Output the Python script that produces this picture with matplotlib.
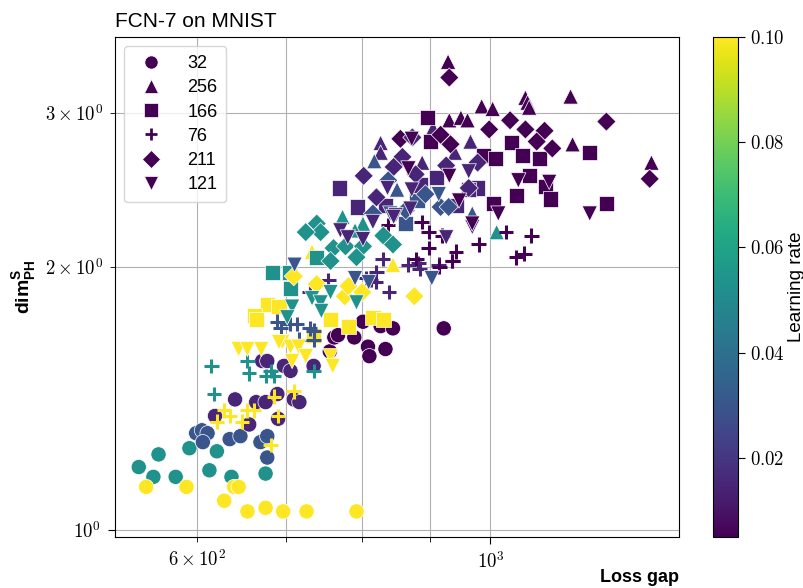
"""FCN-7 on MNIST: PH dimension vs loss gap, coloured by learning rate, marker by batch size."""
import numpy as np
import matplotlib
matplotlib.use('Agg')
import matplotlib.pyplot as plt
from matplotlib.lines import Line2D
from matplotlib.ticker import FuncFormatter, FixedLocator

plt.rcParams['font.family'] = ['Liberation Sans', 'DejaVu Sans']
plt.rcParams['mathtext.fontset'] = 'cm'
plt.rcParams['mathtext.bf'] = 'Liberation Sans:bold'
plt.rcParams['mathtext.rm'] = 'Liberation Sans'

# batch size 32 (circles)
gap_32 = [542, 561, 556, 578, 592, 613, 621, 637, 676,
          549, 589, 629, 640, 645, 655, 676, 697, 726, 792,
          599, 605, 611, 606, 635, 647, 670, 678, 678,
          619, 641, 665, 676, 657, 690, 691, 710, 717, 672, 678, 698, 706, 735,
          756, 762, 767, 789, 801, 808, 810, 826, 833, 844, 922]
dim_32 = [1.18, 1.22, 1.15, 1.15, 1.24, 1.17, 1.23, 1.15, 1.16,
          1.12, 1.12, 1.08, 1.12, 1.12, 1.05, 1.06, 1.05, 1.05, 1.05,
          1.29, 1.30, 1.29, 1.26, 1.27, 1.28, 1.26, 1.28, 1.21,
          1.35, 1.41, 1.40, 1.40, 1.32, 1.43, 1.34, 1.41, 1.40, 1.56, 1.56, 1.54, 1.52, 1.54,
          1.60, 1.66, 1.67, 1.66, 1.73, 1.62, 1.58, 1.71, 1.61, 1.70, 1.70]
lr_32 = [0.0525] * 9 + [0.1] * 10 + [0.03] * 9 + [0.015] * 14 + [0.005] * 11

# batch size 256 (up triangles)
gap_256 = [929, 1150, 1063, 1067, 1070, 985, 1004, 1154, 1324, 931, 950, 961,
           826, 826, 966, 888, 940, 905,
           817, 969, 850,
           1011, 773, 801, 790,
           733, 844]
dim_256 = [3.43, 3.13, 3.12, 3.08, 3.04, 3.05, 3.03, 2.76, 2.63, 2.94, 2.96, 2.94,
           2.77, 2.70, 2.78, 2.63, 2.70, 2.88,
           2.64, 2.30, 2.45,
           2.19, 2.28, 2.24, 2.20,
           2.08, 2.01]
lr_256 = [0.005] * 12 + [0.015] * 6 + [0.03] * 3 + [0.0525] * 4 + [0.1] * 2

# batch size 166 (squares)
gap_166 = [678, 692, 663, 665, 757, 781, 815, 830, 735,
           684, 705, 706, 739,
           769, 911, 978, 962, 793, 833, 885, 942,
           896, 901, 988, 1009, 1038, 1057, 1089, 1189, 1224, 1070, 1046, 1005, 1101, 1110,
           863, 880]
dim_166 = [1.81, 1.80, 1.76, 1.74, 1.74, 1.71, 1.75, 1.74, 1.67,
           1.97, 1.97, 1.89, 2.05,
           2.46, 2.53, 2.46, 2.45, 2.34, 2.35, 2.48, 2.35,
           2.96, 2.78, 2.68, 2.66, 2.77, 2.68, 2.66, 2.70, 2.36, 2.54, 2.41, 2.36, 2.47, 2.39,
           2.24, 2.38]
lr_166 = [0.1] * 9 + [0.0525] * 4 + [0.015] * 8 + [0.005] * 14 + [0.03] * 2

# batch size 76 (plus)
gap_76 = [615, 655, 657, 618, 677, 682, 686, 735,
          621, 629, 635, 649, 655, 662, 686, 691, 710, 682,
          690, 694, 705, 714, 730, 735, 735, 716,
          754, 805, 812, 819, 820, 829, 838, 867, 882, 884, 914, 936, 730,
          887, 898, 920, 898, 942, 936, 915, 879, 980, 1028, 1074, 1046, 1061, 837]
dim_76 = [1.54, 1.56, 1.51, 1.43, 1.50, 1.52, 1.50, 1.52,
          1.33, 1.37, 1.35, 1.33, 1.37, 1.37, 1.42, 1.35, 1.44, 1.25,
          1.73, 1.70, 1.72, 1.72, 1.70, 1.69, 1.65, 1.65,
          1.93, 1.94, 1.93, 1.92, 1.97, 2.04, 1.87, 2.01, 2.02, 1.99, 2.01, 2.03, 1.87,
          2.25, 2.19, 2.17, 2.10, 2.08, 2.03, 2.00, 2.04, 2.12, 2.19, 2.17, 2.05, 2.07, 2.23]
lr_76 = [0.0525] * 8 + [0.1] * 10 + [0.03] * 8 + [0.015] * 13 + [0.005] * 14

# batch size 211 (diamonds)
gap_211 = [931, 1224, 1320, 998, 1099, 1114, 1035, 1063, 1084, 917, 933, 855,
           873, 858, 802, 926, 978, 963, 878, 845, 820,
           837, 917, 930, 863, 893, 815,
           739, 744, 761, 777, 801, 830, 844, 725, 792, 757,
           710, 739, 776, 800, 781, 876]
dim_211 = [3.29, 2.93, 2.52, 2.87, 2.86, 2.73, 2.94, 2.87, 2.78, 2.83, 2.76, 2.80,
           2.81, 2.67, 2.54, 2.61, 2.63, 2.46, 2.55, 2.60, 2.40,
           2.51, 2.34, 2.34, 2.32, 2.42, 2.30,
           2.24, 2.19, 2.10, 2.11, 2.11, 2.17, 2.12, 2.19, 2.05, 2.03,
           1.95, 1.91, 1.85, 1.87, 1.90, 1.85]
lr_211 = [0.005] * 12 + [0.015] * 9 + [0.03] * 6 + [0.0525] * 10 + [0.1] * 6

# batch size 121 (down triangles)
gap_121 = [645, 655, 671, 696, 706, 716, 725, 708, 757, 760, 692,
           733, 744, 745, 757, 792, 708, 702,
           903, 711, 790, 914, 809, 840,
           969, 926, 963, 770, 780, 801, 815, 848, 870, 836, 872, 845,
           1108, 1189, 1014, 969, 1050, 872, 867, 931, 947]
dim_121 = [1.61, 1.61, 1.61, 1.64, 1.62, 1.62, 1.58, 1.56, 1.58, 1.54, 1.64,
           1.84, 1.82, 1.78, 1.87, 1.82, 1.80, 1.75,
           1.94, 2.01, 1.94, 2.42, 1.92, 2.30,
           2.22, 2.16, 2.57, 2.20, 2.16, 2.15, 2.25, 2.29, 2.33, 2.46, 2.45, 2.28,
           2.50, 2.30, 2.30, 2.24, 2.51, 2.80, 2.59, 2.54, 2.38]
lr_121 = [0.1] * 11 + [0.0525] * 7 + [0.03] * 6 + [0.015] * 12 + [0.005] * 9

batch_labels = ['32', '256', '166', '76', '211', '121']
batch_markers = ['o', '^', 's', '+', 'D', 'v']
series = [(gap_32, dim_32, lr_32), (gap_256, dim_256, lr_256),
          (gap_166, dim_166, lr_166), (gap_76, dim_76, lr_76),
          (gap_211, dim_211, lr_211), (gap_121, dim_121, lr_121)]

LR_MIN, LR_MAX = 0.005, 0.1


def log_label(v, pos=None):
    exp = int(np.floor(np.log10(v) + 1e-9))
    coef = v / 10 ** exp
    if abs(coef - 1) < 1e-6:
        return r'$10^{%d}$' % exp
    return r'$%d\times10^{%d}$' % (round(coef), exp)


def main():
    fig = plt.figure(figsize=(8.04, 5.88), dpi=100)
    ax = fig.add_axes([0.143, 0.087, 0.702, 0.850])
    cax = fig.add_axes([0.887, 0.087, 0.031, 0.850])

    sc = None
    for (gx, dy, lr), mk in zip(series, batch_markers):
        if mk == '+':
            sc = ax.scatter(gx, dy, c=lr, cmap='viridis', vmin=LR_MIN, vmax=LR_MAX,
                            marker=mk, s=110, linewidths=2.2)
        else:
            sz = 95 if mk == 'D' else 120
            sc = ax.scatter(gx, dy, c=lr, cmap='viridis', vmin=LR_MIN, vmax=LR_MAX,
                            marker=mk, s=sz, edgecolors='white', linewidths=0.5)

    ax.set_xscale('log')
    ax.set_yscale('log')
    ax.set_xlim(520, 1390)
    ax.set_ylim(0.982, 3.66)

    ax.xaxis.set_major_formatter(FuncFormatter(log_label))
    ax.xaxis.set_minor_formatter(FuncFormatter(
        lambda v, p: log_label(v) if abs(v - 600) < 1 else ''))
    ax.yaxis.set_major_formatter(FuncFormatter(log_label))
    ax.yaxis.set_minor_locator(FixedLocator([2, 3]))
    ax.yaxis.set_minor_formatter(FuncFormatter(log_label))
    ax.tick_params(which='both', labelsize=13.5, pad=5)
    ax.tick_params(which='major', length=5)
    ax.tick_params(which='minor', length=3.5)
    ax.grid(True, which='both', color='#b0b0b0', linewidth=0.8)
    ax.set_axisbelow(True)

    ax.set_title('FCN-7 on MNIST', loc='left', fontsize=15, pad=7)
    ax.set_xlabel('Loss gap', fontweight='bold', fontsize=13)
    ax.xaxis.set_label_coords(1.0, -0.064)
    ax.xaxis.label.set_horizontalalignment('right')
    ax.set_ylabel(r'$\mathbf{dim}^{\mathbf{S}}_{\mathbf{PH}}$', math_fontfamily='custom',
                  fontsize=14)

    handles = []
    for mk, lab in zip(batch_markers, batch_labels):
        if mk == '+':
            h = Line2D([], [], linestyle='none', marker=mk, color='#440154',
                       markersize=8, markeredgewidth=2)
        else:
            h = Line2D([], [], linestyle='none', marker=mk, color='#440154',
                       markersize=9.5, markeredgecolor='white', markeredgewidth=0.5)
        handles.append(h)
    ax.legend(handles, batch_labels, loc='upper left', fontsize=13,
              handletextpad=1.0, borderpad=0.5, labelspacing=0.4)

    cb = fig.colorbar(sc, cax=cax)
    cb.set_ticks([0.02, 0.04, 0.06, 0.08, 0.10])
    cb.ax.yaxis.set_major_formatter(FuncFormatter(lambda v, p: r'$%.2f$' % v))
    cb.ax.tick_params(labelsize=13.5, length=5)
    cb.set_label('Learning rate', fontsize=13.5)
    cb.ax.yaxis.set_label_coords(3.02, 0.5)

    fig.savefig('out.png', dpi=100)


if __name__ == '__main__':
    main()
